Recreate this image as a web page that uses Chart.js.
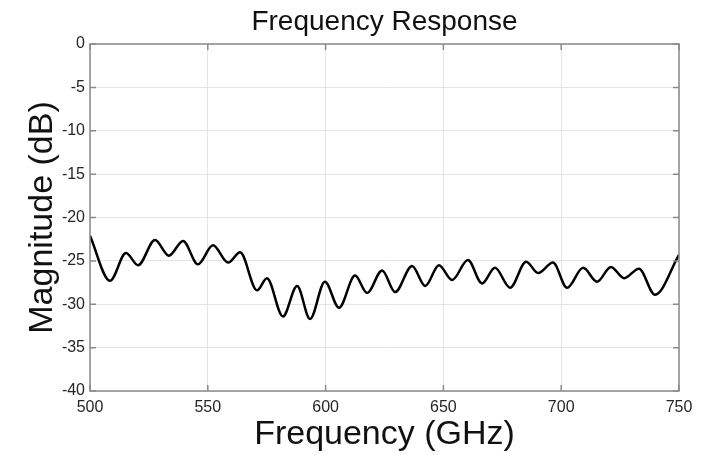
<!DOCTYPE html>
<html>
<head>
<meta charset="utf-8">
<script src="https://cdn.jsdelivr.net/npm/chart.js@4/dist/chart.umd.min.js"></script>
<style>
  html, body { margin: 0; padding: 0; background: #ffffff; }
  #wrap { width: 701px; height: 455px; }
</style>
</head>
<body>
<div id="wrap"><canvas id="c" width="701" height="455"></canvas></div>
<script>
// Frequency (GHz) at the visible turning points of the response
const freqGHz = [500, 508.5, 515.3, 520.4, 527.6, 533.5, 539.5, 545.8, 552.2, 558.6,
  563.7, 570.9, 575.1, 581.9, 587.9, 593.4, 599.7, 605.7, 612.5, 617.6,
  624.0, 629.5, 636.7, 642.3, 648.1, 653.7, 660.4, 666.4, 671.9, 678.3,
  685.1, 690.2, 696.5, 702.5, 709.3, 715.2, 721.1, 726.7, 733.0, 739.8, 750];
// Magnitude (dB)
const magnitudeDB = [-22.1, -27.3, -24.1, -25.5, -22.6, -24.4, -22.7, -25.4, -23.2, -25.2,
  -24.0, -28.4, -27.0, -31.4, -27.9, -31.7, -27.4, -30.4, -26.7, -28.7,
  -26.1, -28.6, -25.6, -27.9, -25.5, -27.2, -24.9, -27.6, -25.8, -28.1,
  -25.1, -26.4, -25.2, -28.1, -25.8, -27.4, -25.7, -27.0, -25.9, -28.9, -24.3];
const xTicks = [500, 550, 600, 650, 700, 750];
const yTicks = [0, -5, -10, -15, -20, -25, -30, -35, -40];

const titleText = 'Frequency Response';
const xTitle = 'Frequency (GHz)';
const yTitle = 'Magnitude (dB)';

const points = freqGHz.map((f, i) => ({ x: f, y: magnitudeDB[i] }));

const boxColor = '#8a8a8a';
const boxPlugin = {
  id: 'boxPlugin',
  afterDatasetsDraw(chart) {
    const { ctx, chartArea: a, scales } = chart;
    ctx.save();
    ctx.strokeStyle = boxColor;
    ctx.lineWidth = 1.5;
    const L = 6;
    ctx.beginPath();
    xTicks.forEach(v => {
      const px = scales.x.getPixelForValue(v);
      ctx.moveTo(px, a.bottom); ctx.lineTo(px, a.bottom - L);
      ctx.moveTo(px, a.top); ctx.lineTo(px, a.top + L);
    });
    yTicks.forEach(v => {
      const py = scales.y.getPixelForValue(v);
      ctx.moveTo(a.left, py); ctx.lineTo(a.left + L, py);
      ctx.moveTo(a.right, py); ctx.lineTo(a.right - L, py);
    });
    ctx.stroke();
    ctx.strokeRect(a.left, a.top, a.right - a.left, a.bottom - a.top);
    ctx.restore();
  }
};

const family = "'Liberation Sans', Arial, sans-serif";

new Chart(document.getElementById('c'), {
  type: 'line',
  data: {
    datasets: [{
      data: points,
      borderColor: '#000000',
      borderWidth: 2.5,
      pointRadius: 0,
      fill: false,
      cubicInterpolationMode: 'monotone'
    }]
  },
  options: {
    responsive: false,
    animation: false,
    devicePixelRatio: 1,
    layout: { padding: { left: 0, right: 22, top: 0, bottom: 0 } },
    plugins: {
      legend: { display: false },
      tooltip: { enabled: false },
      title: {
        display: true,
        text: titleText,
        fullSize: false,
        color: '#111111',
        font: { family: family, size: 28, weight: 'normal', lineHeight: 1.2 },
        padding: { top: 5.2, bottom: 5.2 }
      }
    },
    scales: {
      x: {
        type: 'linear',
        min: 500, max: 750,
        afterBuildTicks(scale) { scale.ticks = xTicks.map(v => ({ value: v })); },
        afterFit(scale) { scale.height = 64; },
        grid: { color: '#e4e4e4', lineWidth: 1, drawTicks: false },
        border: { display: false },
        ticks: {
          color: '#262626', padding: 7, maxRotation: 0,
          font: { family: family, size: 16 }
        },
        title: {
          display: true, text: xTitle, color: '#111111',
          font: { family: family, size: 34, lineHeight: 1 },
          padding: { top: 0, bottom: 3 }
        }
      },
      y: {
        type: 'linear',
        min: -40, max: 0,
        afterBuildTicks(scale) { scale.ticks = yTicks.slice().reverse().map(v => ({ value: v })); },
        afterFit(scale) { scale.width = 90; },
        grid: { color: '#e4e4e4', lineWidth: 1, drawTicks: false },
        border: { display: false },
        ticks: {
          color: '#262626', padding: 5,
          font: { family: family, size: 16 }
        },
        title: {
          display: true, text: yTitle, color: '#111111',
          font: { family: family, size: 34, lineHeight: 1 },
          padding: { top: 26, bottom: 0 }
        }
      }
    }
  },
  plugins: [boxPlugin]
});
</script>
</body>
</html>
